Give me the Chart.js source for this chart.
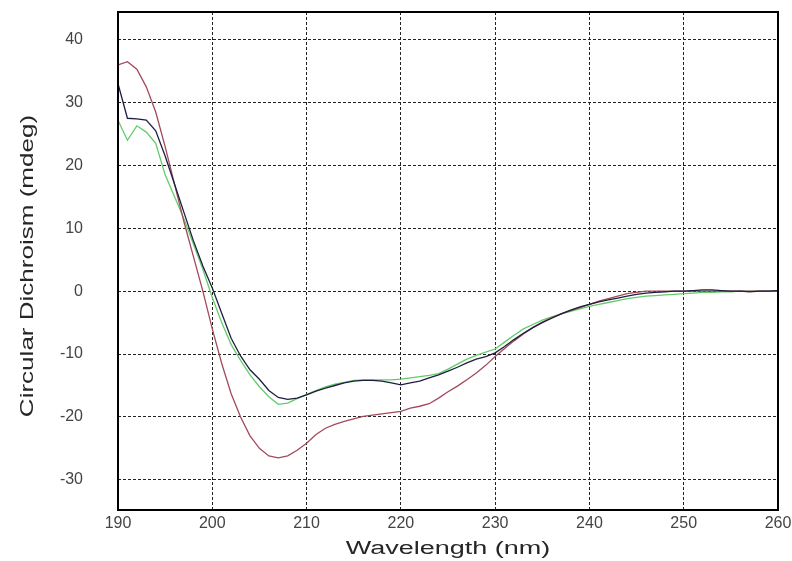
<!DOCTYPE html>
<html>
<head>
<meta charset="utf-8">
<title>Circular Dichroism</title>
<script src="https://cdn.jsdelivr.net/npm/chart.js@4.4.1/dist/chart.umd.min.js"></script>
<style>
  body { margin: 0; background: #fff; }
  #wrap { width: 792px; height: 561px; }
</style>
</head>
<body>
<div id="wrap"><canvas id="cdChart" width="792" height="561"></canvas></div>
<script>
// Wavelength axis (nm), 1 nm steps
const wavelength = [];
for (let w = 190; w <= 260; w++) wavelength.push(w);

// Values (mdeg)
const darkSample = [
  33, 27.5, 27.4, 27.2, 25.5, 21.5, 17, 12.5, 8, 4,
  0.5, -3.5, -7.5, -10.3, -12.5, -14, -15.8, -16.9, -17.2, -17,
  -16.5, -15.9, -15.4, -15, -14.6, -14.3, -14.2, -14.2, -14.3, -14.6,
  -14.9, -14.6, -14.3, -13.8, -13.3, -12.7, -12.1, -11.4, -10.8, -10.4,
  -9.8, -8.8, -7.7, -6.7, -5.8, -5, -4.3, -3.6, -3, -2.5,
  -2.1, -1.7, -1.4, -1.1, -0.8, -0.5, -0.3, -0.2, -0.1, 0,
  0, 0.1, 0.2, 0.2, 0.1, 0, 0, -0.1, 0, 0, 0.1
];
const redSample = [
  36, 36.5, 35.3, 32.5, 28.5, 23, 17, 11, 5.5, 0,
  -6, -11.5, -16.3, -20, -23, -25, -26.2, -26.5, -26.2, -25.3,
  -24.2, -22.8, -21.8, -21.2, -20.7, -20.3, -19.9, -19.7, -19.5, -19.3,
  -19.1, -18.6, -18.3, -17.9, -17, -16, -15.1, -14.1, -13, -11.8,
  -10.4, -9.1, -7.9, -6.8, -5.8, -4.9, -4.2, -3.6, -3.1, -2.6,
  -2.1, -1.6, -1.2, -0.8, -0.4, -0.2, 0, 0, 0, 0,
  0, 0, 0, 0, 0, 0, 0, 0, 0, 0, 0
];
const greenSample = [
  27.2, 24, 26.3, 25.3, 23.5, 18.5, 15, 11.5, 7.5, 3.5,
  -1, -5, -8.5, -11, -13.3, -15.2, -16.8, -18, -17.8, -17.1,
  -16.4, -15.8, -15.2, -14.8, -14.5, -14.2, -14.1, -14.1, -14.1, -14.1,
  -14, -13.8, -13.6, -13.4, -13.1, -12.4, -11.6, -10.8, -10.2, -9.7,
  -9.2, -8.1, -7, -6, -5.3, -4.6, -4.1, -3.6, -3.2, -2.8,
  -2.4, -2.1, -1.8, -1.5, -1.2, -1, -0.8, -0.7, -0.6, -0.5,
  -0.4, -0.3, -0.2, -0.2, -0.1, -0.1, 0, 0, 0, 0, 0
];

const yTicks = [-30, -20, -10, 0, 10, 20, 30, 40];
const xTitle = 'Wavelength (nm)';
const yTitle = 'Circular Dichroism (mdeg)';

function toPoints(values) {
  return wavelength.map((w, i) => ({ x: w, y: values[i] }));
}

// frame round the plot area, plus the wide-looking axis titles
const frameBox = {
  id: 'frameBox',
  afterDraw(chart) {
    const { ctx, chartArea: a } = chart;
    ctx.save();
    ctx.strokeStyle = '#000';
    ctx.lineWidth = 2;
    ctx.strokeRect(a.left, a.top, a.right - a.left, a.bottom - a.top);

    ctx.fillStyle = '#262626';
    ctx.textAlign = 'center';
    ctx.textBaseline = 'alphabetic';

    ctx.save();
    ctx.font = '18px "Liberation Sans"';
    ctx.translate((a.left + a.right) / 2, 554);
    ctx.scale(1.5, 1);
    ctx.fillText(xTitle, 0, 0);
    ctx.restore();

    ctx.save();
    ctx.font = '19px "Liberation Sans"';
    ctx.translate(33, (a.top + a.bottom) / 2 + 5);
    ctx.rotate(-Math.PI / 2);
    ctx.scale(1.37, 1);
    ctx.fillText(yTitle, 0, 0);
    ctx.restore();

    ctx.restore();
  }
};

new Chart(document.getElementById('cdChart').getContext('2d'), {
  type: 'line',
  data: {
    datasets: [
      { label: 'Sample 1', data: toPoints(darkSample), borderColor: '#1e1e40', borderWidth: 1.3 },
      { label: 'Sample 2', data: toPoints(redSample), borderColor: '#a24a5c', borderWidth: 1.3 },
      { label: 'Sample 3', data: toPoints(greenSample), borderColor: '#62cc6a', borderWidth: 1.3 }
    ]
  },
  options: {
    responsive: false,
    animation: false,
    layout: { padding: { left: 0, right: 14, top: 12, bottom: 0 } },
    elements: { point: { radius: 0 }, line: { tension: 0 } },
    plugins: { legend: { display: false }, tooltip: { enabled: false } },
    scales: {
      x: {
        type: 'linear',
        min: 190,
        max: 260,
        afterFit: s => { s.height = 51; s.paddingLeft = 0; s.paddingRight = 0; },
        ticks: { stepSize: 10, padding: 4, color: '#444', font: { family: 'Liberation Sans', size: 16 } },
        grid: { color: '#222', lineWidth: 1, drawTicks: false },
        border: { display: false, dash: [3, 2] }
      },
      y: {
        min: -34.8,
        max: 44.4,
        afterFit: s => { s.width = 118; s.paddingTop = 0; s.paddingBottom = 0; },
        afterBuildTicks: s => { s.ticks = yTicks.map(v => ({ value: v })); },
        ticks: { padding: 35, color: '#444', font: { family: 'Liberation Sans', size: 16 } },
        grid: { color: '#222', lineWidth: 1, drawTicks: false },
        border: { display: false, dash: [3, 2] }
      }
    }
  },
  plugins: [frameBox]
});
</script>
</body>
</html>
